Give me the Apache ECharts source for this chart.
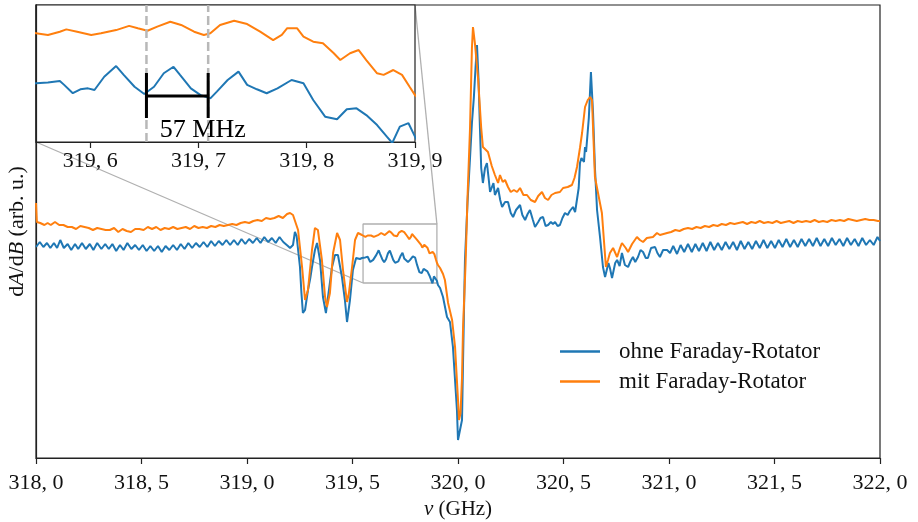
<!DOCTYPE html>
<html><head><meta charset="utf-8">
<script src="https://cdn.jsdelivr.net/npm/echarts@6/dist/echarts.min.js"></script>
<style>html,body{margin:0;padding:0;background:#fff}#c{width:918px;height:522px}</style>
</head><body><div id="c"></div>
<script>
const FONT = 'Liberation Serif';
const seriesNames = ['ohne Faraday-Rotator', 'mit Faraday-Rotator'];
const xTickValues = [318, 318.5, 319, 319.5, 320, 320.5, 321, 321.5, 322];
const xTickLabels = ['318, 0','318, 5','319, 0','319, 5','320, 0','320, 5','321, 0','321, 5','322, 0'];
const insetTickValues = [319.6, 319.7, 319.8, 319.9];
const insetTickLabels = ['319, 6','319, 7','319, 8','319, 9'];
const insetX = [319.55, 319.9];
const insetY = [175, 234];
const markerFreqs = [319.652, 319.709];
const bracketY = [185.3, 194.8, 204.7];
const annotationPos = [319.704, 180.2];
const annotationText = '57 MHz';

const blueLeft = [[318.000,211],[318.018,216],[318.035,211],[318.052,215],[318.068,210],[318.085,215],[318.100,210],[318.115,218],[318.132,210],[318.150,214],[318.167,208],[318.185,214],[318.200,209],[318.218,215],[318.236,209],[318.255,214],[318.272,208],[318.290,215],[318.310,209],[318.328,214],[318.345,209],[318.362,214],[318.380,207],[318.398,213],[318.415,208],[318.433,215],[318.452,209],[318.470,213],[318.488,208],[318.506,213],[318.524,207],[318.542,212],[318.560,207],[318.578,212],[318.596,206],[318.614,212],[318.632,208],[318.650,213],[318.668,208],[318.686,214],[318.704,209],[318.722,215],[318.740,210],[318.758,215],[318.776,211],[318.794,216],[318.812,211],[318.830,217],[318.848,212],[318.866,217],[318.884,213],[318.902,218],[318.920,213],[318.938,218],[318.956,213],[318.974,219],[318.992,214],[319.010,219],[319.028,215],[319.046,220],[319.064,215],[319.082,221],[319.100,216],[319.118,220],[319.136,215],[319.154,221],[319.172,216],[319.180,216],[319.194,212],[319.204,210],[319.218,213],[319.227,226],[319.235,222],[319.242,221],[319.251,191],[319.258,165],[319.265,145],[319.275,148],[319.289,168],[319.300,180],[319.308,191],[319.322,208],[319.332,215],[319.346,198],[319.360,161],[319.374,145],[319.384,161],[319.403,191],[319.417,203],[319.431,203],[319.450,181],[319.464,158],[319.474,136],[319.488,158],[319.502,188],[319.517,200],[319.526,198],[319.535,199],[319.545,200]];
const blueZoom = [[319.550,200.3],[319.561,200.6],[319.572,201.3],[319.576,199.6],[319.584,196.0],[319.591,197.7],[319.598,198.1],[319.604,197.4],[319.613,203.1],[319.624,207.7],[319.631,203.9],[319.641,198.8],[319.650,195.7],[319.659,198.8],[319.668,204.6],[319.677,207.4],[319.683,203.9],[319.693,198.1],[319.702,195.2],[319.711,193.8],[319.717,196.7],[319.727,201.7],[319.737,205.3],[319.745,199.6],[319.754,197.7],[319.763,196.0],[319.773,198.1],[319.786,201.7],[319.797,200.3],[319.806,193.1],[319.817,185.9],[319.828,184.8],[319.837,189.1],[319.846,189.5],[319.855,186.6],[319.865,182.3],[319.874,177.3],[319.879,174.6],[319.886,181.6],[319.894,183.1],[319.900,177.3]];
const blueRight = [[319.905,173],[319.915,170],[319.929,161],[319.948,141],[319.962,136],[319.976,111],[319.995,48],[320.000,18],[320.009,16],[320.019,38],[320.024,98],[320.033,198],[320.045,255],[320.057,300],[320.066,335],[320.075,360],[320.083,390],[320.090,413],[320.097,380],[320.104,330],[320.110,290],[320.118,275],[320.128,290],[320.137,295],[320.145,280],[320.152,266],[320.161,268],[320.168,275],[320.175,263],[320.190,270],[320.200,258],[320.209,251],[320.223,256],[320.237,256],[320.250,245],[320.261,241],[320.275,248],[320.294,253],[320.305,243],[320.318,238],[320.330,244],[320.341,248],[320.355,238],[320.365,231],[320.380,236],[320.391,240],[320.403,241],[320.415,232],[320.427,233],[320.440,236],[320.450,234],[320.460,236],[320.472,232],[320.483,233],[320.495,240],[320.507,245],[320.520,243],[320.530,247],[320.545,251],[320.555,246],[320.564,245],[320.572,270],[320.578,295],[320.585,300],[320.592,301],[320.597,296],[320.602,311],[320.607,306],[320.611,308],[320.620,340],[320.630,386],[320.640,345],[320.649,290],[320.659,248],[320.673,221],[320.687,191],[320.697,181],[320.706,181],[320.713,195],[320.720,190],[320.730,180],[320.735,178],[320.745,195],[320.754,198],[320.766,192],[320.777,205],[320.791,193],[320.806,191],[320.818,197],[320.829,201],[320.840,196],[320.853,201],[320.865,208],[320.877,206],[320.890,200],[320.900,200],[320.915,210],[320.934,211],[320.945,205],[320.957,201],[320.972,208],[320.991,208],[321.005,205],[321.020,212],[321.038,204],[321.055,213],[321.072,206],[321.090,214],[321.108,206],[321.125,214],[321.142,207],[321.160,215],[321.178,207],[321.196,216],[321.214,208],[321.232,215],[321.250,208],[321.268,216],[321.286,209],[321.304,216],[321.322,208],[321.340,217],[321.358,209],[321.376,216],[321.394,209],[321.412,217],[321.430,210],[321.448,218],[321.466,210],[321.484,217],[321.502,210],[321.520,218],[321.538,211],[321.556,219],[321.574,211],[321.592,218],[321.610,211],[321.628,219],[321.646,212],[321.664,219],[321.682,212],[321.700,220],[321.718,212],[321.736,219],[321.754,212],[321.772,220],[321.790,213],[321.808,219],[321.826,212],[321.844,220],[321.862,213],[321.880,219],[321.898,212],[321.916,220],[321.934,213],[321.952,218],[321.970,213],[321.988,221],[322.000,217]];

const orangeLeft = [[318.000,255],[318.004,236],[318.020,235],[318.040,233],[318.055,235],[318.070,233],[318.090,236],[318.110,233],[318.130,233],[318.150,231],[318.170,231],[318.190,229],[318.210,232],[318.230,231],[318.250,230],[318.270,228],[318.290,230],[318.310,229],[318.330,228],[318.350,228],[318.370,230],[318.390,226],[318.410,229],[318.430,227],[318.450,226],[318.470,229],[318.490,229],[318.510,228],[318.530,231],[318.550,229],[318.570,231],[318.590,228],[318.610,230],[318.630,229],[318.650,231],[318.670,229],[318.690,230],[318.710,231],[318.730,229],[318.750,232],[318.770,230],[318.790,231],[318.810,230],[318.830,232],[318.850,231],[318.870,233],[318.890,232],[318.910,233],[318.930,234],[318.950,233],[318.970,235],[318.990,236],[319.010,235],[319.030,237],[319.050,238],[319.070,237],[319.090,240],[319.110,239],[319.130,240],[319.150,242],[319.170,240],[319.190,244],[319.204,245],[319.218,243],[319.227,241],[319.242,228],[319.261,191],[319.275,158],[319.289,168],[319.308,208],[319.322,230],[319.336,228],[319.355,198],[319.370,161],[319.379,151],[319.393,165],[319.408,205],[319.427,225],[319.441,218],[319.455,188],[319.474,156],[319.483,165],[319.498,191],[319.512,218],[319.526,225],[319.545,223]];
const orangeZoom = [[319.550,221.8],[319.561,221.1],[319.572,222.5],[319.578,223.5],[319.588,222.5],[319.601,221.1],[319.610,221.8],[319.624,223.2],[319.636,225.0],[319.644,224.0],[319.653,222.9],[319.662,224.7],[319.674,226.8],[319.684,225.4],[319.696,222.5],[319.705,221.1],[319.711,221.8],[319.720,225.4],[319.733,227.2],[319.745,225.8],[319.757,222.5],[319.769,218.9],[319.777,221.1],[319.782,224.0],[319.791,224.0],[319.797,220.4],[319.806,218.2],[319.815,217.5],[319.825,213.2],[319.831,210.3],[319.840,213.2],[319.848,214.6],[319.855,210.3],[319.865,204.6],[319.871,203.9],[319.880,206.0],[319.888,203.9],[319.895,198.8],[319.900,195.2]];
const orangeRight = [[319.905,193],[319.915,190],[319.929,184],[319.938,178],[319.953,155],[319.972,138],[319.986,111],[320.000,58],[320.005,38],[320.012,45],[320.019,80],[320.024,131],[320.036,195],[320.045,260],[320.057,330],[320.066,410],[320.071,431],[320.080,415],[320.095,380],[320.110,330],[320.118,311],[320.142,306],[320.160,292],[320.175,283],[320.190,275],[320.199,283],[320.212,276],[320.223,278],[320.237,271],[320.250,266],[320.265,268],[320.280,266],[320.294,270],[320.310,263],[320.327,263],[320.345,258],[320.365,256],[320.380,262],[320.398,266],[320.412,260],[320.427,258],[320.443,263],[320.460,265],[320.483,266],[320.498,270],[320.520,271],[320.540,273],[320.552,280],[320.564,291],[320.578,310],[320.588,325],[320.602,351],[320.615,358],[320.626,361],[320.635,358],[320.649,281],[320.659,270],[320.682,245],[320.701,191],[320.711,198],[320.720,205],[320.735,210],[320.754,201],[320.768,210],[320.777,215],[320.795,210],[320.806,206],[320.825,214],[320.848,221],[320.862,218],[320.877,216],[320.895,220],[320.924,221],[320.943,225],[320.957,223],[320.991,225],[321.010,226],[321.030,228],[321.050,227],[321.070,229],[321.090,230],[321.110,229],[321.130,231],[321.150,230],[321.170,232],[321.190,231],[321.210,233],[321.230,232],[321.250,234],[321.270,233],[321.290,235],[321.310,234],[321.330,235],[321.350,236],[321.370,234],[321.390,236],[321.410,235],[321.430,237],[321.450,235],[321.470,236],[321.490,235],[321.510,237],[321.530,235],[321.550,236],[321.570,237],[321.590,235],[321.610,237],[321.630,236],[321.650,237],[321.670,236],[321.690,238],[321.710,236],[321.730,237],[321.750,236],[321.770,238],[321.790,237],[321.810,238],[321.830,237],[321.850,239],[321.870,238],[321.890,237],[321.910,238],[321.930,239],[321.950,238],[321.970,238],[321.990,237],[322.000,237]];

const blueData = blueLeft.concat(blueZoom, blueRight);
const orangeData = orangeLeft.concat(orangeZoom, orangeRight);
const BLUE = '#1f77b4', ORANGE = '#ff7f0e', GRAY = '#b0b0b0';

const chart = echarts.init(document.getElementById('c'), null, {renderer: 'canvas'});
const boxPath = [[insetX[0],insetY[0]],[insetX[1],insetY[0]],[insetX[1],insetY[1]],[insetX[0],insetY[1]],[insetX[0],insetY[0]]];
function lineSeries(name, data, color, xi, z) {
  return {type: 'line', name: name, data: data, xAxisIndex: xi, yAxisIndex: xi, showSymbol: false, symbol: 'none',
    lineStyle: {color: color, width: 2}, itemStyle: {color: color}, z: z, animation: false, silent: true, clip: true};
}
const option = {
  animation: false,
  backgroundColor: '#fff',
  textStyle: {fontFamily: FONT},
  grid: [
    {left: 36, right: 38, top: 5, bottom: 64, outerBoundsMode: 'none', containLabel: false, show: true, borderColor: '#222', borderWidth: 1.2, backgroundColor: 'transparent'},
    {left: 36, top: 5, width: 379, height: 137, outerBoundsMode: 'none', containLabel: false, show: true, borderColor: '#222', borderWidth: 1.2, backgroundColor: '#fff', z: 10}
  ],
  xAxis: [
    {type: 'value', gridIndex: 0, min: 318, max: 322, interval: 0.5,
      axisLine: {show: true, lineStyle: {color: '#222', width: 1.2}},
      axisTick: {show: true, inside: false, length: 6, lineStyle: {color: '#222', width: 1.2}},
      splitLine: {show: false},
      axisLabel: {fontFamily: FONT, fontSize: 22, color: '#111', margin: 14, showMinLabel: true, showMaxLabel: true,
        formatter: v => xTickLabels[xTickValues.indexOf(Math.round(v * 10) / 10)]},
      name: '{i|ν} (GHz)', nameLocation: 'middle', nameGap: 41,
      nameTextStyle: {fontFamily: FONT, fontSize: 21, color: '#111', rich: {i: {fontFamily: FONT, fontStyle: 'italic', fontSize: 21, color: '#111'}}}},
    {type: 'value', gridIndex: 1, min: insetX[0], max: insetX[1], z: 12,
      axisLine: {show: true, lineStyle: {color: '#222', width: 1.2}},
      axisTick: {show: true, inside: false, length: 6, customValues: insetTickValues, lineStyle: {color: '#222', width: 1.2}},
      splitLine: {show: false},
      axisLabel: {fontFamily: FONT, fontSize: 22, color: '#111', margin: 8, customValues: insetTickValues,
        formatter: v => insetTickLabels[insetTickValues.indexOf(Math.round(v * 10) / 10)]}}
  ],
  yAxis: [
    {type: 'value', gridIndex: 0, min: 0, max: 453, axisLine: {show: true, lineStyle: {color: '#222', width: 1.2}},
      axisTick: {show: false}, axisLabel: {show: false}, splitLine: {show: false},
      name: '{n|d}{i|A}{n|/d}{i|B}{n| (arb. u.)}', nameLocation: 'middle', nameGap: 8,
      nameTextStyle: {rich: {n: {fontFamily: FONT, fontSize: 22, color: '#111'}, i: {fontFamily: FONT, fontStyle: 'italic', fontSize: 22, color: '#111'}}}},
    {type: 'value', gridIndex: 1, min: insetY[0], max: insetY[1], z: 12, axisLine: {show: true, lineStyle: {color: '#222', width: 1.2}},
      axisTick: {show: false}, axisLabel: {show: false}, splitLine: {show: false}}
  ],
  legend: {data: seriesNames, orient: 'vertical', left: 560, top: 340, padding: 0, icon: 'rect', itemWidth: 40, itemHeight: 2.5, itemGap: 7,
    textStyle: {fontFamily: FONT, fontSize: 23, color: '#111', padding: [0, 0, 0, 14]}},
  series: [
    {type: 'line', data: boxPath, xAxisIndex: 0, yAxisIndex: 0, showSymbol: false, symbol: 'none', silent: true,
      lineStyle: {color: GRAY, width: 1.3}, z: 1},
    lineSeries(seriesNames[0], blueData, BLUE, 0, 3),
    lineSeries(seriesNames[1], orangeData, ORANGE, 0, 4),
    lineSeries(seriesNames[0], blueData, BLUE, 1, 13),
    lineSeries(seriesNames[1], orangeData, ORANGE, 1, 14),
    {type: 'line', data: [[markerFreqs[0], insetY[0]], [markerFreqs[0], insetY[1]]], xAxisIndex: 1, yAxisIndex: 1, symbol: 'none', silent: true,
      lineStyle: {color: '#b8b8b8', width: 2.5, type: [9, 4]}, z: 15},
    {type: 'line', data: [[markerFreqs[1], insetY[0]], [markerFreqs[1], insetY[1]]], xAxisIndex: 1, yAxisIndex: 1, symbol: 'none', silent: true,
      lineStyle: {color: '#b8b8b8', width: 2.5, type: [9, 4]}, z: 15},
    {type: 'line', data: [[markerFreqs[0], bracketY[1]], [markerFreqs[1], bracketY[1]]], xAxisIndex: 1, yAxisIndex: 1, symbol: 'none', silent: true,
      lineStyle: {color: '#000', width: 3}, z: 16},
    {type: 'line', data: [[markerFreqs[0], bracketY[0]], [markerFreqs[0], bracketY[2]]], xAxisIndex: 1, yAxisIndex: 1, symbol: 'none', silent: true,
      lineStyle: {color: '#000', width: 3}, z: 16},
    {type: 'line', data: [[markerFreqs[1], bracketY[0]], [markerFreqs[1], bracketY[2]]], xAxisIndex: 1, yAxisIndex: 1, symbol: 'none', silent: true,
      lineStyle: {color: '#000', width: 3}, z: 16}
  ]
};
chart.setOption(option);

const a0 = chart.convertToPixel({gridIndex: 1}, [insetX[0], insetY[0]]);
const b0 = chart.convertToPixel({gridIndex: 0}, [insetX[0], insetY[0]]);
const a1 = chart.convertToPixel({gridIndex: 1}, [insetX[1], insetY[1]]);
const b1 = chart.convertToPixel({gridIndex: 0}, [insetX[1], insetY[1]]);
const tp = chart.convertToPixel({gridIndex: 1}, annotationPos);
chart.setOption({graphic: [
  {type: 'line', shape: {x1: a0[0], y1: a0[1], x2: b0[0], y2: b0[1]}, style: {stroke: GRAY, lineWidth: 1.3}, z: 1, silent: true},
  {type: 'line', shape: {x1: a1[0], y1: a1[1], x2: b1[0], y2: b1[1]}, style: {stroke: GRAY, lineWidth: 1.3}, z: 1, silent: true},
  {type: 'text', x: tp[0], y: tp[1], z: 30, silent: true,
    style: {text: annotationText, fontFamily: FONT, fontSize: 26, fill: '#000', align: 'center', verticalAlign: 'middle'}}
]});
</script></body></html>
